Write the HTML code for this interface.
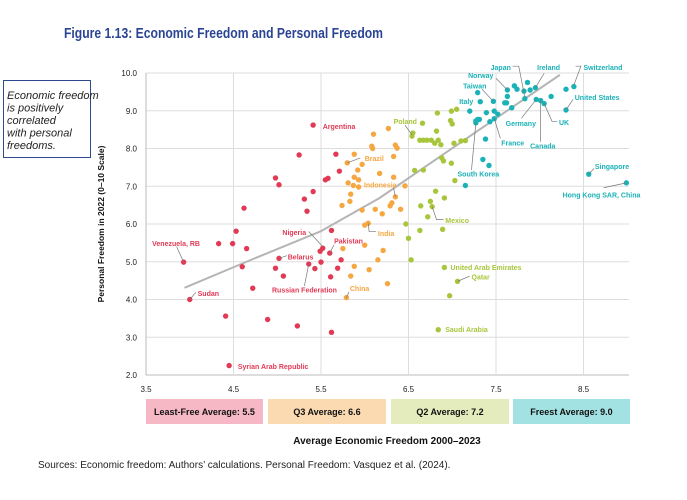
<!DOCTYPE html>
<html><head><meta charset="utf-8"><style>
body{margin:0;background:#fff;width:687px;height:500px;overflow:hidden;font-family:"Liberation Sans",sans-serif}
</style></head><body>
<svg id="chart" width="687" height="500" xmlns="http://www.w3.org/2000/svg" style="position:absolute;left:0;top:0">
<text x="64" y="38" font-size="15" font-weight="bold" fill="#2b4594" textLength="319" lengthAdjust="spacingAndGlyphs">Figure 1.13: Economic Freedom and Personal Freedom</text>
<rect x="3.5" y="80.5" width="87" height="77" fill="#fff" stroke="#2e4a8e" stroke-width="1"/>
<g font-size="11" font-style="italic" fill="#222">
<text x="7" y="99">Economic freedom</text><text x="7" y="111.5">is positively</text><text x="7" y="124">correlated</text><text x="7" y="136.5">with personal</text><text x="7" y="149">freedoms.</text></g>
<text transform="translate(104,224) rotate(-90)" text-anchor="middle" font-size="8.5" font-weight="bold" fill="#111">Personal Freedom in 2022 (0–10 Scale)</text>
<g id="grid"></g><g id="trend"></g><g id="pts"></g><g id="ann"></g><g id="ticks"></g>
<g font-size="9" font-weight="bold" fill="#111" text-anchor="middle">
<rect x="146" y="399" width="117" height="25" fill="#f6b8c4"/><text x="204.5" y="415">Least-Free Average: 5.5</text>
<rect x="268" y="399" width="118" height="25" fill="#fbdab2"/><text x="327" y="415">Q3 Average: 6.6</text>
<rect x="391" y="399" width="118" height="25" fill="#e4ecbd"/><text x="450" y="415">Q2 Average: 7.2</text>
<rect x="513" y="399" width="117" height="25" fill="#a2e2e2"/><text x="571.5" y="415">Freest Average: 9.0</text>
</g>
<text x="387" y="444" text-anchor="middle" font-size="10" font-weight="bold" fill="#111">Average Economic Freedom 2000–2023</text>
<text x="38" y="468" font-size="10" fill="#222">Sources: Economic freedom: Authors’ calculations. Personal Freedom: Vasquez et al. (2024).</text>
</svg>
<script>
const xTicks=[3.5,4.5,5.5,6.5,7.5,8.5];
const yTicks=[2,3,4,5,6,7,8,9,10];
const redX=[5.41,5.25,5.67,5.71,4.98,5.02,5.55,5.58,5.41,5.31,5.34,4.62,4.53,5.62,4.33,4.49,4.65,3.93,5.52,5.49,5.60,5.02,4.60,4.98,5.36,5.50,5.43,5.73,5.69,5.07,5.61,4.72,4.00,4.41,4.89,5.23,5.62,4.45];
const redY=[8.62,7.83,7.85,7.40,7.22,7.04,7.17,7.21,6.86,6.66,6.34,6.42,5.81,5.83,5.48,5.48,5.35,4.99,5.36,5.28,5.23,5.09,4.87,4.83,4.94,4.99,4.82,5.05,4.83,4.62,4.60,4.30,4.00,3.56,3.47,3.30,3.13,2.25];
const orangeX=[6.10,6.27,6.08,6.09,5.88,5.80,5.97,5.92,6.17,5.88,5.93,5.81,5.87,5.93,5.84,5.83,5.74,5.97,6.12,6.20,6.00,6.04,6.00,5.75,6.21,6.15,5.88,6.05,5.84,6.26,5.79,6.35,6.37,6.33,6.33,6.46,6.35,6.31,6.29,6.41];
const orangeY=[8.38,8.53,8.06,8.00,7.85,7.62,7.58,7.43,7.34,7.24,7.17,7.09,7.02,6.98,6.79,6.60,6.49,6.37,6.39,6.27,5.97,6.02,5.44,5.35,5.30,5.05,4.88,4.79,4.62,4.42,4.05,8.09,8.01,7.79,7.24,7.01,6.72,6.56,6.48,6.39];
const greenX=[6.83,6.99,7.05,6.66,6.98,7.00,6.54,6.55,6.82,6.63,6.67,6.71,6.76,6.80,6.84,6.87,7.02,7.10,7.15,6.88,6.90,6.99,6.57,6.67,7.03,6.81,6.91,6.75,6.77,6.64,6.72,6.47,6.63,6.89,6.50,6.53,6.91,7.06,6.97,6.84];
const greenY=[8.94,8.99,9.04,8.67,8.74,8.65,8.33,8.41,8.46,8.22,8.22,8.22,8.22,8.14,8.22,8.10,8.14,8.20,8.21,7.75,7.67,7.61,7.42,7.43,7.15,6.87,6.69,6.60,6.46,6.48,6.19,6.00,5.83,5.86,5.62,5.05,4.85,4.48,4.10,3.20];
const tealX=[7.86,7.71,7.74,7.63,7.82,7.89,7.95,8.30,8.39,7.29,7.63,7.83,8.13,7.32,7.47,7.60,7.62,7.96,8.01,8.05,7.68,7.20,7.39,7.48,7.52,8.30,7.48,7.43,7.27,7.29,7.31,7.27,7.38,7.35,7.42,7.15,8.56,8.99];
const tealY=[9.75,9.66,9.57,9.55,9.52,9.55,9.61,9.57,9.64,9.48,9.38,9.32,9.38,9.24,9.25,9.21,9.21,9.30,9.27,9.19,9.08,8.99,8.95,8.99,8.91,9.02,8.79,8.71,8.73,8.77,8.77,8.68,8.25,7.71,7.55,7.02,7.32,7.09];
const trendX=[3.94,4.7,5.5,6.17,7.5,8.23];
const trendY=[4.31,5.05,5.81,6.69,8.8,9.95];
const labelText=["Argentina","Brazil","Indonesia","India","Nigeria","Pakistan","Venezuela, RB","Belarus","Russian Federation","China","Sudan","Syrian Arab Republic","Poland","Mexico","United Arab Emirates","Qatar","Saudi Arabia","Japan","Ireland","Switzerland","Norway","Taiwan","Italy","United States","Germany","UK","France","Canada","South Korea","Singapore","Hong Kong SAR, China"];
const labelX=[5.52,6.0,5.99,6.15,5.33,5.65,3.57,5.12,4.94,5.83,4.09,4.55,6.33,6.92,6.98,7.22,6.92,7.67,7.97,8.50,7.47,7.39,7.24,8.40,7.61,8.22,7.56,7.89,7.06,8.63,9.15];
const labelY=[8.58,7.74,7.03,5.75,5.77,5.55,5.48,5.13,4.25,4.29,4.16,2.23,8.71,6.09,4.85,4.60,3.20,10.15,10.15,10.15,9.93,9.66,9.24,9.35,8.66,8.69,8.15,8.07,7.32,7.52,6.77];
const labelGroup=["r","o","o","o","r","r","r","r","r","o","r","r","g","g","g","g","g","t","t","t","t","t","t","t","t","t","t","t","t","t","t"];
const labelAnchor=["start","start","start","start","end","start","start","start","start","start","start","start","start","start","start","start","start","end","start","start","end","end","end","start","start","start","start","start","start","start","end"];
const leaders=[null,[[5.80,7.62],[5.95,7.75]],[[6.35,6.72],[6.33,6.95]],[[6.04,6.02],[6.05,5.80],[6.13,5.80]],[[5.36,5.80],[5.52,5.40]],[[5.60,5.23],[5.65,5.45]],[[3.85,5.40],[3.93,4.99]],[[5.02,5.09],[5.11,5.16]],[[5.36,4.94],[5.31,4.36]],[[5.79,4.05],[5.82,4.2]],[[4.00,4.00],[4.07,4.19]],null,[[6.46,8.62],[6.54,8.36]],[[6.77,6.46],[6.82,6.12],[6.90,6.12]],null,[[7.06,4.48],[7.20,4.62]],null,[[7.69,10.18],[7.76,10.18],[7.83,9.35]],[[8.05,9.99],[7.95,9.61]],[[8.41,10.18],[8.47,10.18],[8.39,9.68]],[[7.50,9.86],[7.63,9.55]],[[7.34,9.57],[7.47,9.25]],null,[[8.38,9.30],[8.30,9.02]],[[7.79,8.80],[7.96,9.30]],[[8.05,9.19],[8.14,8.72],[8.20,8.72]],[[7.48,8.79],[7.55,8.27]],[[8.01,9.27],[8.01,8.18]],[[7.27,8.68],[7.22,7.43]],[[8.56,7.32],[8.62,7.47]],[[8.99,7.09],[8.73,6.96]]];
const col={r:"#e23a55",o:"#f5a742",g:"#a8c63c",t:"#1ab2b7"};
const NS="http://www.w3.org/2000/svg";
function xs(v){return 146+(v-3.5)*87.5;}
function ys(v){return 73+(10-v)*37.75;}
function mk(tag,attrs,parent){const e=document.createElementNS(NS,tag);for(const k in attrs)e.setAttribute(k,attrs[k]);document.getElementById(parent).appendChild(e);return e;}
yTicks.forEach(t=>{const l=mk("line",{x1:xs(3.5),x2:xs(9.02),y1:ys(t),y2:ys(t),stroke:t===2?"#bbb":"#ddd","stroke-width":1},"grid");


const tx=mk("text",{x:137,y:ys(t)+3,"text-anchor":"end","font-size":8,fill:"#222"},"ticks");tx.textContent=t.toFixed(1);

});
xTicks.forEach(t=>{const l=mk("line",{x1:xs(t),x2:xs(t),y1:ys(10),y2:ys(2),stroke:t===3.5?"#bbb":"#ddd","stroke-width":1},"grid");


const tx=mk("text",{x:xs(t),y:392,"text-anchor":"middle","font-size":8,fill:"#222"},"ticks");tx.textContent=t.toFixed(1);

});
let d="M"+xs(trendX[0])+","+ys(trendY[0]);
for(let i=1;i<trendX.length;i++)d+=" L"+xs(trendX[i])+","+ys(trendY[i]);
const tr=mk("path",{d:d,fill:"none",stroke:"#b5b5b5","stroke-width":2,"stroke-linejoin":"round"},"trend");


function drawSeries(X,Y,c,name){for(let i=0;i<X.length;i++){const p=mk("circle",{cx:xs(X[i]),cy:ys(Y[i]),r:2.7,fill:c},"pts");

}}
drawSeries(redX,redY,col.r,"least-free-point");
drawSeries(orangeX,orangeY,col.o,"q3-point");
drawSeries(greenX,greenY,col.g,"q2-point");
drawSeries(tealX,tealY,col.t,"freest-point");
labelText.forEach((s,i)=>{const c=col[labelGroup[i]];
if(leaders[i]){const pts=leaders[i].map(p=>xs(p[0])+","+ys(p[1])).join(" ");
const pl=mk("polyline",{points:pts,fill:"none",stroke:"#777","stroke-width":0.7},"ann");

}
const t=mk("text",{x:xs(labelX[i]),y:ys(labelY[i])+2.5,"text-anchor":labelAnchor[i],"font-size":7,"font-weight":"bold",fill:c},"ann");t.textContent=s;

});
</script>
</body></html>
